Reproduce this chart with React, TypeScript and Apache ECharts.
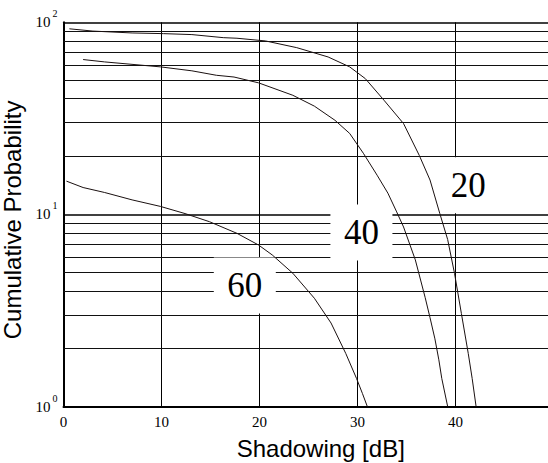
import React, { useEffect, useRef } from 'react';
import * as echarts from 'echarts';

// ---- data ----
const xTicks = [0, 10, 20, 30, 40];
const minorGridValues = [2, 3, 4, 5, 6, 7, 8, 9, 20, 30, 40, 50, 60, 70, 80, 90];
const curveNames = ['20', '40', '60'];

const curve20: [number, number][] = [
  [0.6, 92.5], [3, 90], [7, 88], [10.2, 87.3], [13.1, 86.3], [16.3, 83.2], [17.7, 82.6],
  [20.6, 80], [23.8, 73.8], [27.0, 66], [29.2, 58.6], [30.8, 50.9], [32.7, 39.3],
  [34.7, 29.7], [36.3, 20.3], [37.4, 15.1], [38.4, 10.1], [39.2, 7.4], [39.9, 4.93],
  [40.6, 3.05], [41.3, 1.89], [41.7, 1.4], [42.1, 1.0],
];
const curve40: [number, number][] = [
  [2.0, 64], [4.2, 62.2], [9.9, 58.6], [13.1, 55.9], [15.6, 53], [17.4, 51.9], [19.9, 48.4],
  [23.4, 41.7], [25.6, 36.6], [27.7, 30.9], [29.2, 26.4], [30.6, 20.8], [32.0, 16.0],
  [33.1, 12.9], [34.0, 10.3], [34.7, 8.6], [35.9, 5.8], [36.9, 3.7], [37.4, 2.9],
  [37.9, 2.25], [38.3, 1.75], [38.6, 1.4], [39.2, 1.0],
];
const curve60: [number, number][] = [
  [0.3, 14.9], [2.0, 13.8], [4.2, 13.0], [7.0, 11.9], [9.9, 11.0], [12.4, 10.1], [14.9, 9.16],
  [17.7, 7.97], [19.9, 6.93], [21.3, 6.15], [23.4, 4.94], [25.6, 3.66], [27.3, 2.72],
  [28.8, 1.89], [29.9, 1.4], [30.5, 1.17], [31.0, 1.0],
];
// data-space anchors of the curve labels
const labelAnchors: [number, number][] = [[41.3, 14.2], [30.4, 8.06], [18.5, 4.27]];

export default function App() {
  const ref = useRef<HTMLDivElement>(null);
  useEffect(() => {
    const chart = echarts.init(ref.current!, null, { renderer: 'svg' });
    const serif = "'Liberation Serif', 'Times New Roman', serif";
    const sans = "'Liberation Sans', Arial, sans-serif";
    const curveStyle = { color: '#1a1010', width: 1 };
    const curves = [curve20, curve40, curve60];
    chart.setOption({
      animation: false,
      backgroundColor: '#ffffff',
      grid: { left: 63.5, top: 22.3, width: 514.5, height: 384.2, containLabel: false, outerBoundsMode: 'none' },
      xAxis: {
        type: 'value',
        min: 0,
        max: 52.5,
        interval: 10,
        name: 'Shadowing [dB]',
        nameLocation: 'middle',
        nameGap: 30,
        nameTextStyle: { fontFamily: sans, fontSize: 24, color: '#000', lineHeight: 24 },
        axisLine: { show: true, onZero: false, lineStyle: { color: '#000', width: 2 } },
        axisTick: { show: false },
        axisLabel: {
          fontFamily: serif,
          fontSize: 15,
          color: '#000',
          margin: 8,
          showMaxLabel: false,
          formatter: (v: number) => (xTicks.includes(v) ? String(v) : ''),
        },
        splitLine: { show: true, lineStyle: { color: '#000', width: 1 } },
      },
      yAxis: {
        type: 'log',
        logBase: 10,
        min: 1,
        max: 100,
        name: 'Cumulative Probability',
        nameLocation: 'middle',
        nameGap: 34,
        nameTextStyle: { fontFamily: sans, fontSize: 24, color: '#000', padding: [0, 11, 0, 0] },
        axisLine: { show: true, lineStyle: { color: '#000', width: 2 } },
        axisTick: { show: false },
        axisLabel: {
          margin: 6,
          formatter: (v: number) => `{b|10}{s|${Math.round(Math.log10(v))}}`,
          rich: {
            b: { fontFamily: serif, fontSize: 15, color: '#000', lineHeight: 27 },
            s: { fontFamily: serif, fontSize: 10, color: '#000', lineHeight: 10, verticalAlign: 'top', padding: [0, 0, 0, 2] },
          },
        },
        splitLine: { show: true, lineStyle: { color: '#000', width: 1.5 } },
      },
      series: curves.map((c, i) => ({
        type: 'line',
        name: curveNames[i],
        data: c,
        symbol: 'none',
        showSymbol: false,
        smooth: false,
        z: 4,
        lineStyle: curveStyle,
        silent: true,
        ...(i === 0
          ? {
              markLine: {
                silent: true,
                z: 1,
                symbol: ['none', 'none'],
                label: { show: false },
                lineStyle: { color: '#111', width: 1.2, type: 'solid' },
                emphasis: { disabled: true },
                data: minorGridValues.map((v) => ({ yAxis: v })),
              },
            }
          : {}),
        ...(i === 2
          ? {
              markPoint: {
                silent: true,
                z: 3,
                symbol: 'rect',
                symbolSize: [62, 56],
                itemStyle: { color: '#ffffff' },
                label: {
                  show: true,
                  position: 'inside',
                  formatter: '{b}',
                  fontFamily: serif,
                  fontSize: 35,
                  color: '#000',
                },
                emphasis: { disabled: true },
                data: labelAnchors.map((c2, j) => ({ name: curveNames[j], coord: c2 })),
              },
            }
          : {}),
      })),
    });
    return () => chart.dispose();
  }, []);
  return <div ref={ref} style={{ position: 'fixed', left: 0, top: 0, width: 548, height: 463 }} />;
}
